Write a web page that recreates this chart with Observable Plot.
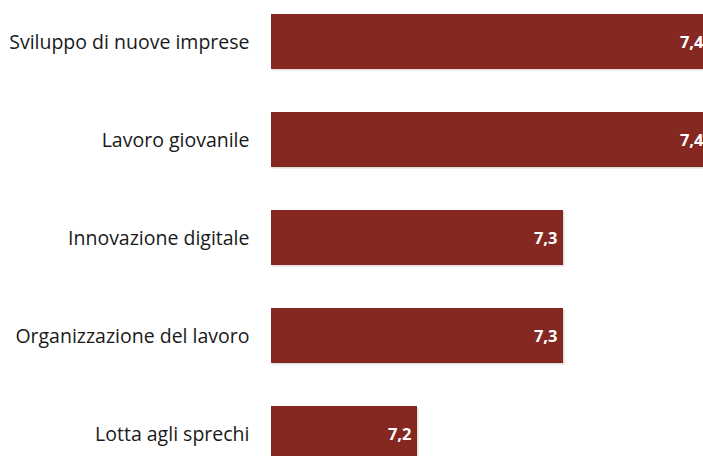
<!DOCTYPE html>
<html><head><meta charset="utf-8">
<script src="https://cdn.jsdelivr.net/npm/d3@7"></script>
<script src="https://cdn.jsdelivr.net/npm/@observablehq/plot@0.6"></script>
<style>
html,body{margin:0;padding:0;background:#fff;overflow:hidden;}
#chart svg{display:block;}
</style>
</head><body><div id="chart"></div>
<script>
const categories = ["Sviluppo di nuove imprese","Lavoro giovanile","Innovazione digitale","Organizzazione del lavoro","Lotta agli sprechi"];
const values = [7.4, 7.4, 7.3, 7.3, 7.2];
const labels = ["7,4","7,4","7,3","7,3","7,2"];
const data = categories.map((c,i)=>({cat:c, value:values[i], label:labels[i]}));

const chart = Plot.plot({
  width: 703, height: 456,
  marginLeft: 271, marginRight: 0, marginTop: 0, marginBottom: 0,
  style: {fontFamily: "'Open Sans', sans-serif", background: "#fff"},
  x: {domain: [7.1, 7.3], range: [271, 563], axis: null},
  y: {domain: categories, range: [-7.5, 482.5], paddingInner: 0.44, paddingOuter: 0.22, label: null},
  marks: [
    Plot.barX(data, {y: "cat", x1: 7.1, x2: "value", fill: "#bbb", fillOpacity: 0.5, dx: 1.5, dy: 1.5}),
    Plot.barX(data, {y: "cat", x1: 7.1, x2: "value", fill: "#852822"}),
    Plot.text(data, {y: "cat", x: "value", text: "label", textAnchor: "end", dx: -6, dy: 1, fill: "white", fontWeight: "bold", fontSize: 16.5}),
    Plot.axisY({tickSize: 0, tickPadding: 22, fontSize: 19.5, dy: 1, fill: "#1a1a1a", label: null})
  ]
});
document.getElementById("chart").appendChild(chart);
</script>
</body></html>
